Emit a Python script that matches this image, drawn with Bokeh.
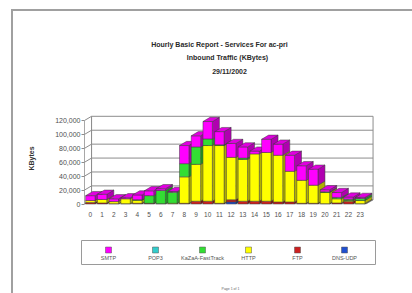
from bokeh.plotting import figure
from bokeh.models import ColumnDataSource, Range1d, FixedTicker, NumeralTickFormatter
from bokeh.core.properties import value
from bokeh.layouts import column
from bokeh.embed import file_html
from bokeh.resources import INLINE

# ---------------- data (KBytes) ----------------
hours = list(range(24))
hour_labels = [str(h) for h in hours]
smtp  = [7000, 7500, 4000, 1500, 7000, 7000, 2500, 1000, 26000, 16000, 25000, 19000,
         20000, 16000, 4000, 19000, 16000, 23000, 21000, 23000, 3000, 7000, 3000, 1500]
pop3  = [0] * 24
kazaa = [0, 0, 0, 0, 500, 11000, 19000, 16000, 19000, 25000, 9500, 1000,
         0, 2000, 0, 0, 0, 0, 0, 0, 1000, 2000, 2000, 3000]
http  = [3000, 5000, 3000, 7000, 4500, 0, 0, 1000, 38000, 53000, 80000, 83000,
         61000, 60000, 68000, 70000, 67000, 44000, 33000, 26000, 16000, 6000, 1500, 4500]
ftp   = [2000, 1500, 500, 500, 1000, 1000, 500, 0, 1000, 4000, 4000, 1000,
         3000, 4000, 4000, 4000, 3000, 3000, 1000, 1000, 500, 1500, 3500, 500]
dns   = [0, 0, 0, 0, 0, 0, 0, 0, 0, 0, 0, 0,
         3000, 0, 0, 0, 0, 0, 0, 0, 0, 0, 0, 0]
y_ticks = [0, 20000, 40000, 60000, 80000, 100000, 120000]

series_names = ["SMTP", "POP3", "KaZaA-FastTrack", "HTTP", "FTP", "DNS-UDP"]
series_vals = [smtp, pop3, kazaa, http, ftp, dns]
front_cols = ["#FF00FF", "#33CCCC", "#33DD33", "#FFFF00", "#CC2020", "#2050D0"]
side_cols  = ["#B000B0", "#208888", "#209920", "#B0B000", "#881010", "#103088"]
top_cols   = ["#E000E0", "#2AAAAA", "#2ABB2A", "#E0E000", "#AA1818", "#1840B0"]

FONT = "Liberation Sans"
W_TOTAL, OX, OY = 399, 13, 11      # content width, page offsets (after page border)

# ---------------- title panel (page coordinates) ----------------
tp = figure(width=W_TOTAL, height=89, output_backend="svg", toolbar_location=None,
            x_range=Range1d(OX, 412), y_range=Range1d(100, OY),
            min_border=0, min_border_left=0, min_border_right=0,
            min_border_top=0, min_border_bottom=0)
tp.frame_align = False
tp.axis.visible = False
tp.grid.visible = False
tp.outline_line_color = None
titles = ["Hourly Basic Report - Services For ac-pri", "Inbound Traffic (KBytes)", "29/11/2002"]
tp.text([219, 227, 229], [43.5, 57, 70.5], text=titles, text_align="center",
        text_baseline="middle", text_font=value(FONT), text_font_style="bold",
        text_font_size="7px", text_color="#2A2A2A")

# ---------------- chart panel ----------------
W = 0.8        # bar front width (slots)
DX = 0.6       # depth offset in x (slots)
DY = 6000      # depth offset in y (KBytes)
X0, X1 = -0.5, 23.5
PXK = 0.696 / 1000     # px per KByte

p = figure(width=W_TOTAL, height=134, output_backend="svg", toolbar_location=None,
           x_range=Range1d(-0.5, -0.5 + 292 / 11.73),
           y_range=Range1d(-0.5 / PXK, -0.5 / PXK + 92 / PXK),
           min_border_left=71, min_border_right=36, min_border_top=12, min_border_bottom=30)
p.frame_align = False
p.outline_line_color = None
p.grid.visible = False

wall_col = "#8C8C8C"
top_v = y_ticks[-1]
p.patch([X0 + DX, X1 + DX, X1 + DX, X0 + DX], [DY, DY, top_v + DY, top_v + DY],
        fill_color="white", line_color=wall_col, line_width=1)
p.patch([X0, X0 + DX, X0 + DX, X0], [0, DY, top_v + DY, top_v],
        fill_color="white", line_color=wall_col, line_width=1)
p.patch([X0, X1, X1 + DX, X0 + DX], [0, 0, DY, DY],
        fill_color="#F2F2F2", line_color=wall_col, line_width=1)
for v in y_ticks[1:-1]:
    p.line([X0, X0 + DX, X1 + DX], [v, v + DY, v + DY], line_color=wall_col, line_width=1)

xs, ys, cols = [], [], []
stack_order = list(range(len(series_vals)))[::-1]   # DNS-UDP bottom ... SMTP top
for i in hours:
    xl, xr = i - W / 2, i + W / 2
    b = 0
    last = None
    for s in stack_order:
        v = series_vals[s][i]
        if v <= 0:
            continue
        t = b + v
        xs.append([xr, xr + DX, xr + DX, xr]); ys.append([b, b + DY, t + DY, t]); cols.append(side_cols[s])
        xs.append([xl, xr, xr, xl]); ys.append([b, b, t, t]); cols.append(front_cols[s])
        b = t
        last = s
    if last is not None:
        xs.append([xl, xr, xr + DX, xl + DX]); ys.append([b, b, b + DY, b + DY]); cols.append(top_cols[last])

src = ColumnDataSource(dict(xs=xs, ys=ys, c=cols))
p.patches("xs", "ys", source=src, fill_color="c", line_color="#3A3A3A", line_width=0.5)
p.segment([X0], [0], [X0], [top_v], line_color=wall_col, line_width=1)

p.yaxis.ticker = FixedTicker(ticks=y_ticks)
p.yaxis.formatter = NumeralTickFormatter(format="0,0")
p.yaxis.axis_line_color = None
p.yaxis.major_tick_out = 3
p.yaxis.major_tick_in = 0
p.yaxis.major_tick_line_color = wall_col
p.yaxis.minor_tick_line_color = None
p.yaxis.major_label_standoff = 1
p.yaxis.major_label_text_font = FONT
p.yaxis.major_label_text_font_size = "7px"
p.yaxis.major_label_text_color = "#505050"
p.yaxis.axis_label = "KBytes"
p.yaxis.axis_label_text_font = FONT
p.yaxis.axis_label_text_font_style = "bold"
p.yaxis.axis_label_text_font_size = "7px"
p.yaxis.axis_label_text_color = "#333333"
p.yaxis.axis_label_standoff = 17

p.xaxis.ticker = FixedTicker(ticks=hours)
p.xaxis.major_label_overrides = {h: lab for h, lab in zip(hours, hour_labels)}
p.xaxis.axis_line_color = None
p.xaxis.major_tick_line_color = None
p.xaxis.minor_tick_line_color = None
p.xaxis.major_label_standoff = 1
p.xaxis.major_label_text_font = FONT
p.xaxis.major_label_text_font_size = "6.5px"
p.xaxis.major_label_text_color = "#505050"

# ---------------- legend panel (page coordinates) ----------------
leg = figure(width=W_TOTAL, height=59, output_backend="svg", toolbar_location=None,
             x_range=Range1d(OX, 412), y_range=Range1d(293, 234),
             min_border=0, min_border_left=0, min_border_right=0,
             min_border_top=0, min_border_bottom=0)
leg.frame_align = False
leg.axis.visible = False
leg.grid.visible = False
leg.outline_line_color = None
leg.quad(left=[81], right=[375], bottom=[264], top=[240], fill_color="white",
         line_color="#9A9A9A", line_width=1)
item_x = [108, 155, 202, 248, 297, 344]
leg.scatter(item_x, [249.5] * 6, marker="square", size=6, fill_color=front_cols,
            line_color="#555555", line_width=0.5)
leg.text(item_x, [257] * 6, text=series_names, text_align="center", text_baseline="middle",
         text_font=value(FONT), text_font_size="5.5px", text_color="#555555")
leg.text([230], [288], text=["Page 1 of 1"], text_align="center", text_baseline="middle",
         text_font=value(FONT), text_font_size="3.5px", text_color="#666666")

layout = column(tp, p, leg, spacing=0, margin=(9, 0, 0, 11),
                styles={"border-top": "2px solid #A0A0A0", "border-left": "2px solid #A0A0A0"})
open("out.html", "w").write(file_html(layout, INLINE))
